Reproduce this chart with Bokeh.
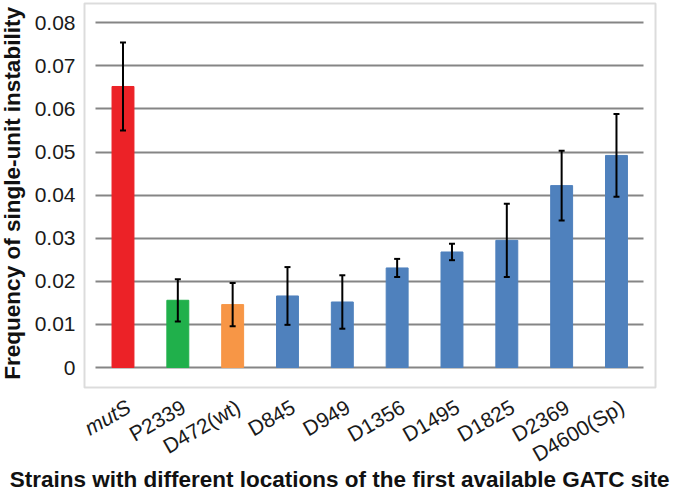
from bokeh.plotting import figure
from bokeh.models import ColumnDataSource, FixedTicker, Range1d, BoxAnnotation
from bokeh.embed import file_html
from bokeh.resources import INLINE
import math

strains = ["mutS", "P2339", "D472(wt)", "D845", "D949", "D1356", "D1495", "D1825", "D2369", "D4600(Sp)"]
freq = [0.0652, 0.0156, 0.0146, 0.0166, 0.0152, 0.0231, 0.0268, 0.0295, 0.0422, 0.0492]
err = [0.0102, 0.0049, 0.0050, 0.0067, 0.0062, 0.0021, 0.0019, 0.0085, 0.0081, 0.0096]
colors = ["#EC2227", "#20B04B", "#F79646", "#4F81BD", "#4F81BD", "#4F81BD", "#4F81BD",
          "#4F81BD", "#4F81BD", "#4F81BD"]
yticks = [0, 0.01, 0.02, 0.03, 0.04, 0.05, 0.06, 0.07, 0.08]
ytick_labels = ["0", "0.01", "0.02", "0.03", "0.04", "0.05", "0.06", "0.07", "0.08"]
y_title = "Frequency of single-unit instability"
x_title = "Strains with different locations of the first available GATC site"

xs = list(range(len(strains)))
src = ColumnDataSource(dict(
    x=xs, top=freq, color=colors,
    upper=[f + e for f, e in zip(freq, err)],
    lower=[f - e for f, e in zip(freq, err)],
))

FONT = "Liberation Sans"
TXT = "#1a1a1a"

# The frame covers the whole canvas; the chart box is drawn as an annotation.
p = figure(width=677, height=492, output_backend="svg", toolbar_location=None,
           x_range=Range1d(-2.234, 10.113), y_range=Range1d(-0.0290, 0.08515),
           min_border_left=0, min_border_right=0, min_border_top=0, min_border_bottom=0)
p.xaxis.visible = False
p.yaxis.visible = False
p.outline_line_color = None
p.background_fill_color = "white"

box = BoxAnnotation(left=-0.702, right=9.712, bottom=-0.00464, top=0.08445,
                    fill_alpha=0, line_color="#8c8c8c", line_width=2, level="underlay")
p.add_layout(box)

p.xgrid.visible = False
p.ygrid.ticker = FixedTicker(ticks=yticks)
p.ygrid.grid_line_color = "#858585"
p.ygrid.grid_line_width = 2
p.ygrid.cross_bounds = (-0.5, 9.5)

p.vbar(x="x", top="top", bottom=0, width=0.4, color="color", source=src)
p.segment(x0="x", x1="x", y0="lower", y1="upper", line_color="black", line_width=2, source=src)
p.scatter(x="x", y="upper", marker="dash", size=6, line_color="black", line_width=2, source=src)
p.scatter(x="x", y="lower", marker="dash", size=6, line_color="black", line_width=2, source=src)

# y tick labels
p.text(x=[-0.866] * len(yticks), y=yticks, text=ytick_labels,
       text_align="right", text_baseline="middle",
       text_font={"value": FONT}, text_font_size={"value": "21px"}, text_color=TXT)

# y title
p.text(x=[-2.022], y=[0.0404], text=[y_title], angle=math.pi / 2,
       text_align="center", text_baseline="alphabetic",
       text_font={"value": FONT}, text_font_style={"value": "bold"},
       text_font_size={"value": "22.5px"}, text_color="#111111")

# x tick labels
lab_src = ColumnDataSource(dict(
    x=xs, y=[-0.0064] * len(xs), text=strains,
    style=["italic" if s == "mutS" else "normal" for s in strains],
))
p.text(x="x", y="y", text="text", source=lab_src, angle=math.radians(30),
       text_align="right", text_baseline="top", text_font_style="style",
       text_font={"value": FONT}, text_font_size={"value": "21px"}, text_color=TXT)

# x title
p.text(x=[3.95], y=[-0.02590], text=[x_title],
       text_align="center", text_baseline="alphabetic",
       text_font={"value": FONT}, text_font_style={"value": "bold"},
       text_font_size={"value": "22.5px"}, text_color="#111111")

open("out.html", "w").write(file_html(p, INLINE))
